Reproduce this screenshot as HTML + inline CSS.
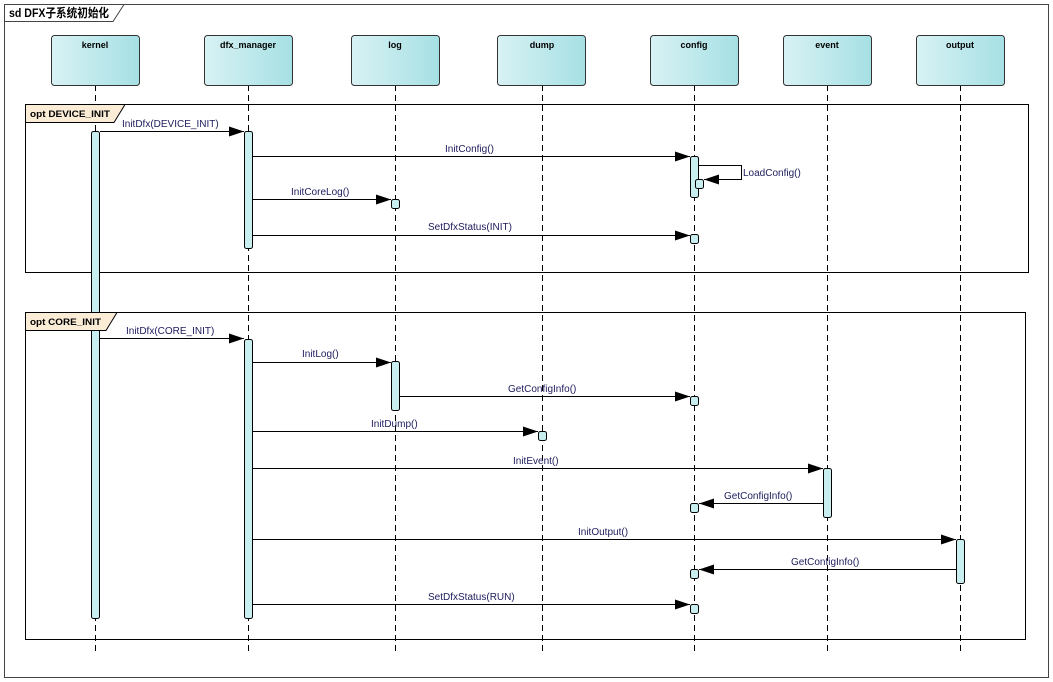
<!DOCTYPE html>
<html><head><meta charset="utf-8"><style>
body{margin:0;background:#fff;}
svg{display:block;font-family:"Liberation Sans","Noto Sans CJK SC",sans-serif;}
.m{font-size:10px;fill:#1c1c5c;}
.h{font-size:10px;font-weight:bold;fill:#000;}
</style></head><body>
<svg width="1053" height="682" viewBox="0 0 1053 682">
<defs>
<linearGradient id="g" x1="0" y1="0" x2="1" y2="0"><stop offset="0" stop-color="#d8f2f4"/><stop offset="1" stop-color="#a6e0e4"/></linearGradient>
<marker id="a" markerWidth="16" markerHeight="10" refX="15" refY="5" orient="auto" markerUnits="userSpaceOnUse"><path d="M0,0 L15,5 L0,10 Z" fill="#000"/></marker>
</defs>
<rect x="4.5" y="4.5" width="1044" height="673" fill="#fff" stroke="#444"/>
<path d="M4.5,21.5 H113 L124,4.5" fill="none" stroke="#444"/>
<text x="9" y="17" class="h" style="font-size:12px" textLength="100" lengthAdjust="spacingAndGlyphs">sd DFX子系统初始化</text>

<g stroke="#000" stroke-dasharray="6,4" stroke-width="1">
<line x1="95.5" y1="85" x2="95.5" y2="655"/>
<line x1="248.5" y1="85" x2="248.5" y2="655"/>
<line x1="395.5" y1="85" x2="395.5" y2="655"/>
<line x1="542.5" y1="85" x2="542.5" y2="655"/>
<line x1="694.5" y1="85" x2="694.5" y2="655"/>
<line x1="827.5" y1="85" x2="827.5" y2="655"/>
<line x1="960.5" y1="85" x2="960.5" y2="655"/>
</g>
<g fill="url(#g)" stroke="#333">
<rect x="51.5" y="35.5" width="88" height="50" rx="3"/>
<rect x="204.5" y="35.5" width="88" height="50" rx="3"/>
<rect x="351.5" y="35.5" width="88" height="50" rx="3"/>
<rect x="497.5" y="35.5" width="88" height="50" rx="3"/>
<rect x="650.5" y="35.5" width="88" height="50" rx="3"/>
<rect x="783.5" y="35.5" width="88" height="50" rx="3"/>
<rect x="916.5" y="35.5" width="88" height="50" rx="3"/>
</g>
<g class="h" text-anchor="middle" style="font-size:9px">
<text x="95" y="48">kernel</text><text x="248" y="48">dfx_manager</text><text x="395" y="48">log</text><text x="542" y="48">dump</text><text x="694" y="48">config</text><text x="827" y="48">event</text><text x="960" y="48">output</text>
</g>

<rect x="25.5" y="104.5" width="1003" height="168" fill="none" stroke="#000"/>
<rect x="25.5" y="312.5" width="1000" height="327" fill="none" stroke="#000"/>

<g fill="#c8eef0" stroke="#000">
<rect x="91.5" y="131.5" width="8" height="487" rx="2"/>
<rect x="244.5" y="131.5" width="8" height="117" rx="2"/>
<rect x="244.5" y="339.5" width="8" height="279" rx="2"/>
<rect x="690.5" y="156.5" width="8" height="41" rx="2"/>
<rect x="695.5" y="179.5" width="8" height="9" rx="2"/>
<rect x="391.5" y="199.5" width="8" height="9" rx="2"/>
<rect x="690.5" y="234.5" width="8" height="9" rx="2"/>
<rect x="391.5" y="361.5" width="8" height="49" rx="2"/>
<rect x="690.5" y="396.5" width="8" height="9" rx="2"/>
<rect x="538.5" y="431.5" width="8" height="9" rx="2"/>
<rect x="823.5" y="468.5" width="8" height="49" rx="2"/>
<rect x="690.5" y="503.5" width="8" height="9" rx="2"/>
<rect x="956.5" y="539.5" width="8" height="44" rx="2"/>
<rect x="690.5" y="569.5" width="8" height="9" rx="2"/>
<rect x="690.5" y="604.5" width="8" height="9" rx="2"/>
</g>

<path d="M25.5,104.5 H125 L114,122.5 H25.5 Z" fill="#fbecd6" stroke="#000"/>
<text x="30" y="117" class="h" style="font-size:9px" textLength="80" lengthAdjust="spacingAndGlyphs">opt DEVICE_INIT</text>
<path d="M25.5,312.5 H117 L106,330.5 H25.5 Z" fill="#fbecd6" stroke="#000"/>
<text x="30" y="325" class="h" style="font-size:9px" textLength="71" lengthAdjust="spacingAndGlyphs">opt CORE_INIT</text>

<g stroke="#000" marker-end="url(#a)" fill="none">
<line x1="100" y1="131.5" x2="244" y2="131.5"/>
<line x1="253" y1="156.5" x2="690" y2="156.5"/>
<path d="M699,165.5 H741.5 V179.5 H704"/>
<line x1="253" y1="199.5" x2="391" y2="199.5"/>
<line x1="253" y1="235.5" x2="690" y2="235.5"/>
<line x1="100" y1="338.5" x2="244" y2="338.5"/>
<line x1="253" y1="362.5" x2="391" y2="362.5"/>
<line x1="400" y1="396.5" x2="690" y2="396.5"/>
<line x1="253" y1="431.5" x2="538" y2="431.5"/>
<line x1="253" y1="468.5" x2="823" y2="468.5"/>
<line x1="823" y1="503.5" x2="699" y2="503.5"/>
<line x1="253" y1="539.5" x2="956" y2="539.5"/>
<line x1="956" y1="569.5" x2="699" y2="569.5"/>
<line x1="253" y1="604.5" x2="690" y2="604.5"/>
</g>
<g class="m">
<text x="122" y="127">InitDfx(DEVICE_INIT)</text>
<text x="445" y="152">InitConfig()</text>
<text x="743" y="176">LoadConfig()</text>
<text x="291" y="195">InitCoreLog()</text>
<text x="428" y="230">SetDfxStatus(INIT)</text>
<text x="126" y="334">InitDfx(CORE_INIT)</text>
<text x="302" y="357">InitLog()</text>
<text x="508" y="392">GetConfigInfo()</text>
<text x="371" y="427">InitDump()</text>
<text x="513" y="464">InitEvent()</text>
<text x="724" y="499">GetConfigInfo()</text>
<text x="578" y="535">InitOutput()</text>
<text x="791" y="565">GetConfigInfo()</text>
<text x="428" y="600">SetDfxStatus(RUN)</text>
</g>
</svg>
</body></html>
